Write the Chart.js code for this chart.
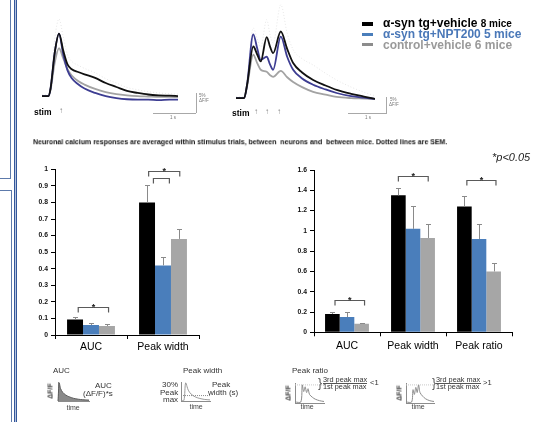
<!DOCTYPE html>
<html>
<head>
<meta charset="utf-8">
<script src="https://cdn.jsdelivr.net/npm/chart.js@4.4.1/dist/chart.umd.min.js"></script>
<style>
html, body { margin: 0; padding: 0; background: #fff; }
#page { position: relative; width: 535px; height: 422px; overflow: hidden; background: #fff;
        font-family: "Liberation Sans", Arial, sans-serif; }
#page canvas { position: absolute; }
.t { position: absolute; white-space: nowrap; line-height: 1; will-change: transform; }
.ln { position: absolute; }
</style>
</head>
<body>
<div id="page">
  <canvas id="trace1" width="136" height="87" style="left:42px;top:17px"></canvas>
  <canvas id="trace2" width="139" height="106" style="left:236px;top:0px"></canvas>
  <canvas id="bars1" width="185" height="200" style="left:20px;top:160px"></canvas>
  <canvas id="bars2" width="245" height="200" style="left:280px;top:160px"></canvas>
  <canvas id="mini1" width="33" height="20" style="left:57px;top:382px"></canvas>
  <canvas id="mini2" width="31" height="20" style="left:180px;top:382px"></canvas>
  <canvas id="mini3" width="31" height="22" style="left:294px;top:382px"></canvas>
  <canvas id="mini4" width="30" height="22" style="left:405px;top:382px"></canvas>
</div>
<script>
// ---- calcium traces (% dF/F against seconds) ----
const t1Time  = [0, 0.15, 0.2, 0.3, 0.4, 0.5, 0.6, 0.7, 0.85, 1.0, 1.25, 1.5, 1.75, 2.0, 2.25, 2.5, 2.75, 3.0, 3.2];
const t1TgVeh = [0, 0, 1.8, 11, 15.8, 11.5, 8, 6.8, 6.1, 5.5, 4.6, 3.3, 2.3, 1.3, 0.8, 0.4, 0.2, 0.1, 0];
const t1TgNpt = [0, 0, 1.8, 11, 15.8, 10.5, 6.5, 4.5, 3.0, 1.9, 0.8, 0.0, -0.5, -0.8, -0.9, -0.9, -1.0, -0.9, -0.9];
const t1Ctrl  = [0, 0, 1.5, 8.5, 12.1, 9.5, 6.8, 5.2, 3.8, 2.9, 1.8, 1.0, 0.5, 0.2, 0.0, -0.1, -0.2, -0.2, -0.25];
const t1Sem   = [0.3, 0.3, 3, 14.5, 19.5, 15, 10.5, 8.8, 7.8, 7.0, 5.9, 4.4, 3.3, 2.2, 1.6, 1.1, 0.8, 0.6, 0.5];

const t2Time  = [0, 0.19, 0.26, 0.405, 0.5, 0.58, 0.72, 0.8, 0.87, 1.05, 1.2, 1.34, 1.55, 1.81, 2.1, 2.36, 2.7, 3.0, 3.26];
const t2TgVeh = [0, 0, 3.4, 13.1, 11, 9.3, 15.5, 13, 11.4, 16.9, 12.5, 8.9, 6.5, 4.6, 3.2, 2.1, 1.1, 0.4, -0.2];
const t2TgNpt = [0, 0, 3.4, 16.2, 12.5, 9.7, 10.5, 8.5, 7.2, 15.6, 10.5, 7.2, 5.0, 3.4, 2.2, 1.3, 0.5, 0.1, -0.2];
const t2Ctrl  = [0, 0, 3, 11, 8.8, 7.2, 6.7, 5.8, 5.4, 6.9, 5.3, 4.1, 2.8, 1.6, 0.9, 0.3, 0, -0.1, -0.2];
const t2Sem   = [0.3, 0.3, 5, 17.8, 15, 13, 19.9, 16, 14, 23.7, 16.5, 12.3, 10, 8.4, 6.3, 4.6, 2.8, 1.5, 0.6];

// ---- bar charts ----
const cats1 = ['AUC', 'Peak width'];
const tgVeh1 = [0.093, 0.80];
const tgNpt1 = [0.060, 0.42];
const ctrl1  = [0.054, 0.58];
const tgVehErr1 = [0.014, 0.105];
const tgNptErr1 = [0.014, 0.049];
const ctrlErr1  = [0.011, 0.058];
const ticks1 = { max: 1, step: 0.1 };
// [category, from series, to series, height, mark]
const sig1 = [[0, 0.2, 2.1, 0.169, '*'], [1, 0.1, 2.05, 0.99, '*'], [1, 0.4, 1.4, 0.946, '']];

const cats2 = ['AUC', 'Peak width', 'Peak ratio'];
const tgVeh2 = [0.18, 1.35, 1.24];
const tgNpt2 = [0.15, 1.02, 0.92];
const ctrl2  = [0.085, 0.93, 0.60];
const tgVehErr2 = [0.023, 0.07, 0.10];
const tgNptErr2 = [0.047, 0.23, 0.145];
const ctrlErr2  = [0.007, 0.135, 0.08];
const ticks2 = { max: 1.6, step: 0.2 };
const sig2 = [[0, 0.18, 2.2, 0.318, '*'], [1, 0.0, 2.04, 1.544, '*'], [2, 0.17, 2.16, 1.50, '*']];

// ---- schematic curves ----
const aucT = [0, 0.4, 0.8, 1.5, 2.5, 3.5, 5, 6.5, 8, 10];
const aucY = [0, 1, 0.7, 0.48, 0.33, 0.24, 0.15, 0.1, 0.07, 0.05];
const pwT = [0, 1, 1.6, 2.5, 3.5, 5, 6.5, 8, 10];
const pwY = [0.03, 0.03, 1, 0.6, 0.38, 0.22, 0.14, 0.09, 0.06];
const pwLevel = 0.3;
const prT = [0, 4, 5, 6, 7, 8, 9, 10, 12, 14, 17, 20];
const prLow  = [0.05, 0.05, 0.95, 0.6, 0.85, 0.55, 0.75, 0.45, 0.3, 0.2, 0.12, 0.08];
const prHigh = [0.05, 0.05, 0.7, 0.45, 0.82, 0.55, 0.95, 0.55, 0.35, 0.22, 0.12, 0.08];

const BLACK = '#000000', BLUE = '#4a7ebb', GRAY = '#a6a6a6';

Chart.defaults.animation = false;
Chart.defaults.font.family = '"Liberation Sans", Arial, sans-serif';
Chart.defaults.plugins.legend.display = false;
Chart.defaults.plugins.tooltip.enabled = false;

const page = document.getElementById('page');

function traceChart(id, time, veh, npt, ctrl, sem, xMax, yMax) {
    const mk = (d, color, w, dash) => ({
        data: time.map((t, i) => ({ x: t, y: d[i] })),
        borderColor: color, borderWidth: w, borderDash: dash || [],
        pointRadius: 0, cubicInterpolationMode: 'monotone', clip: false
    });
    new Chart(document.getElementById(id), {
        type: 'line',
        data: { datasets: [
            mk(veh, '#111', 1.8),
            mk(npt, '#3d3d92', 1.8),
            mk(ctrl, '#a3a3a3', 1.8),
            mk(sem, 'rgba(170,170,170,0.28)', 1, [1, 2])
        ] },
        options: {
            responsive: false,
            layout: { padding: 0 },
            scales: {
                x: { type: 'linear', display: false, min: 0, max: xMax },
                y: { display: false, min: -2, max: yMax }
            }
        }
    });
}

traceChart('trace1', t1Time, t1TgVeh, t1TgNpt, t1Ctrl, t1Sem, 3.2, 20);
traceChart('trace2', t2Time, t2TgVeh, t2TgNpt, t2Ctrl, t2Sem, 3.26, 24.9);

const barExtras = {
    id: 'barExtras',
    afterDatasetsDraw(chart, args, opts) {
        const ctx = chart.ctx, y = chart.scales.y;
        ctx.save();
        ctx.strokeStyle = '#8a8a8a';
        ctx.lineWidth = 1;
        opts.errors.forEach((errs, di) => {
            const vals = chart.data.datasets[di].data;
            chart.getDatasetMeta(di).data.forEach((bar, i) => {
                const top = Math.round(y.getPixelForValue(vals[i] + errs[i])) + 0.5;
                const x = Math.round(bar.x) + 0.5;
                ctx.beginPath();
                ctx.moveTo(x, bar.y);
                ctx.lineTo(x, top);
                ctx.moveTo(x - 2.5, top);
                ctx.lineTo(x + 2.5, top);
                ctx.stroke();
            });
        });
        ctx.strokeStyle = '#5a5a5a';
        ctx.lineWidth = 1.2;
        ctx.fillStyle = '#222';
        ctx.font = 'bold 9px "Liberation Sans", Arial';
        ctx.textAlign = 'center';
        ctx.textBaseline = 'alphabetic';
        opts.brackets.forEach(([cat, from, to, h, mark]) => {
            const xs = [0, 1, 2].map(di => chart.getDatasetMeta(di).data[cat].x);
            const at = f => { const i = Math.min(Math.floor(f), 1); return xs[i] + (f - i) * (xs[i + 1] - xs[i]); };
            const x0 = at(from), x1 = at(to);
            const yy = Math.round(y.getPixelForValue(h)) + 0.5;
            ctx.beginPath();
            ctx.moveTo(x0, yy + 5);
            ctx.lineTo(x0, yy);
            ctx.lineTo(x1, yy);
            ctx.lineTo(x1, yy + 5);
            ctx.stroke();
            if (mark) ctx.fillText(mark, (x0 + x1) / 2, yy + 2);
        });
        ctx.restore();
    }
};

function barChart(id, cats, sets, errs, ticks, sig, yWidth, xHeight, pad, labelPad) {
    new Chart(document.getElementById(id), {
        type: 'bar',
        data: {
            labels: cats,
            datasets: [
                { label: 'α-syn tg+vehicle', data: sets[0], backgroundColor: BLACK },
                { label: 'α-syn tg+NPT200', data: sets[1], backgroundColor: BLUE },
                { label: 'control+vehicle', data: sets[2], backgroundColor: GRAY }
            ]
        },
        options: {
            responsive: false,
            categoryPercentage: 0.665,
            barPercentage: 1.0,
            layout: { padding: pad },
            plugins: { barExtras: { errors: errs, brackets: sig } },
            scales: {
                x: {
                    grid: { drawOnChartArea: false, drawTicks: true, tickLength: 4, color: '#000', offset: true },
                    border: { color: '#000', width: 1 },
                    ticks: { color: '#000', font: { size: 10.5 }, padding: labelPad, maxRotation: 0 },
                    afterFit: s => { s.height = xHeight; }
                },
                y: {
                    min: 0, max: ticks.max,
                    grid: { drawOnChartArea: false, drawTicks: true, tickLength: 4, color: '#000' },
                    border: { color: '#000', width: 1 },
                    ticks: { stepSize: ticks.step, color: '#111', padding: 3, font: { size: 6.8, weight: 'bold' },
                             callback: v => String(Math.round(v * 100) / 100) },
                    afterFit: s => { s.width = yWidth; }
                }
            }
        },
        plugins: [barExtras]
    });
}

barChart('bars1', cats1, [tgVeh1, tgNpt1, ctrl1], [tgVehErr1, tgNptErr1, ctrlErr1], ticks1, sig1,
    35, 25, { top: 9.3, right: 6, left: 0, bottom: 0 }, 1.5);
barChart('bars2', cats2, [tgVeh2, tgNpt2, ctrl2], [tgVehErr2, tgNptErr2, ctrlErr2], ticks2, sig2,
    34, 27.7, { top: 10, right: 13, left: 0, bottom: 0 }, 3.4);

function miniChart(id, series, pad) {
    new Chart(document.getElementById(id), {
        type: 'line',
        data: { datasets: series },
        options: {
            responsive: false,
            layout: { padding: pad },
            scales: {
                x: { type: 'linear', min: series[0].data[0].x, max: series[0].data[series[0].data.length - 1].x,
                     ticks: { display: false }, grid: { display: false, drawTicks: false },
                     border: { color: '#8c8c8c', width: 1 } },
                y: { min: 0, max: 1.05,
                     ticks: { display: false }, grid: { display: false, drawTicks: false },
                     border: { color: '#8c8c8c', width: 1 } }
            }
        }
    });
}
const pts = (xs, ys) => xs.map((x, i) => ({ x: x, y: ys[i] }));
const flat = (xs, v) => [{ x: xs[0], y: v }, { x: xs[xs.length - 1], y: v }];
const curve = (d, color, extra) => Object.assign({ data: d, borderColor: color, borderWidth: 1, pointRadius: 0, tension: 0.3, clip: false }, extra || {});

miniChart('mini1', [curve(pts(aucT, aucY), '#5c5c5c', { fill: 'origin', backgroundColor: '#8a8a8a' })],
    { left: 1, bottom: 1, top: 0, right: 1 });
miniChart('mini2', [curve(pts(pwT, pwY), '#9a9a9a'),
                    curve(flat(pwT, pwLevel), '#8a8a8a', { borderDash: [1, 1], tension: 0 })],
    { left: 1, bottom: 1, top: 0, right: 1 });
miniChart('mini3', [curve(pts(prT, prLow), '#8a8a8a'),
                    curve(flat(prT, 0.95), '#c8c8c8', { borderDash: [1, 1], tension: 0 })],
    { left: 1, bottom: 1, top: 1, right: 1 });
miniChart('mini4', [curve(pts(prT, prHigh), '#8a8a8a'),
                    curve(flat(prT, 0.95), '#c8c8c8', { borderDash: [1, 1], tension: 0 })],
    { left: 1, bottom: 1, top: 1, right: 1 });

// ---- text and rules around the charts ----
function addText(html, x, y, o) {
    o = o || {};
    const d = document.createElement('div');
    d.className = 't';
    d.innerHTML = html;
    d.style.left = x + 'px';
    d.style.top = y + 'px';
    d.style.fontSize = (o.size || 8) + 'px';
    d.style.fontWeight = o.bold ? 'bold' : 'normal';
    if (o.italic) d.style.fontStyle = 'italic';
    d.style.color = o.color || '#000';
    page.appendChild(d);
    const w = d.offsetWidth;
    if (o.rotate) {
        d.style.transform = 'translate(-50%, -50%) rotate(-90deg)';
    } else if (o.fit) {
        d.style.transformOrigin = '0 50%';
        d.style.transform = 'translate(0, -50%) scaleX(' + (o.fit / w) + ')';
    } else {
        const tx = o.align === 'right' ? -w : o.align === 'center' ? -w / 2 : 0;
        d.style.transform = 'translate(' + tx + 'px, -50%)';
    }
}
function addRule(x, y, w, h, color) {
    const d = document.createElement('div');
    d.className = 'ln';
    d.style.cssText = 'left:' + x + 'px;top:' + y + 'px;width:' + w + 'px;height:' + h + 'px;background:' + color;
    page.appendChild(d);
}

// frame lines on the left
addRule(9.5, 0, 1.5, 178, '#5d7aab');
addRule(0, 177.5, 11, 1.5, '#5d7aab');
addRule(0, 189.5, 12, 1.5, '#5d7aab');
addRule(10.5, 190, 1.5, 232, '#5d7aab');
addRule(13.5, 0, 3, 422, '#b3c3de');
addRule(13.5, 0, 1, 422, '#33569a');
addRule(15.8, 0, 1, 422, '#33569a');

// legend
addRule(362, 22, 11, 3.5, BLACK);
addRule(362, 32.5, 11, 3.5, BLUE);
addRule(362, 42.5, 11, 3.5, '#8c8c8c');
addText('α-syn tg+vehicle <span style="font-size:10px">8 mice</span>', 383, 23, { size: 12, bold: true });
addText('α-syn tg+NPT200 5 mice', 383, 34, { size: 12, bold: true, color: '#4a78b8' });
addText('control+vehicle 6 mice', 383, 44.5, { size: 12, bold: true, color: '#9a9a9a' });

// stimulus marks and scale bars
addText('stim', 34, 112, { size: 8.5, bold: true });
addText('↑', 61, 111, { size: 8, color: '#888', align: 'center' });
addText('stim', 232, 113, { size: 8.5, bold: true });
addText('↑', 256, 112, { size: 8, color: '#888', align: 'center' });
addText('↑', 267.3, 112, { size: 8, color: '#888', align: 'center' });
addText('↑', 278.7, 112, { size: 8, color: '#888', align: 'center' });

addRule(195.5, 93, 1, 20, '#a8a8a8');
addRule(153, 112.5, 43, 1, '#a8a8a8');
addText('5%', 199, 96, { size: 4.5, color: '#777' });
addText('ΔF/F', 198.5, 101, { size: 4.5, color: '#777' });
addText('1 s', 173, 117.5, { size: 4.5, color: '#777', align: 'center' });
addRule(386, 97, 1, 16, '#a8a8a8');
addRule(348, 112.5, 39, 1, '#a8a8a8');
addText('5%', 390, 100, { size: 4.5, color: '#777' });
addText('ΔF/F', 389, 104.5, { size: 4.5, color: '#777' });
addText('1 s', 368, 117.5, { size: 4.5, color: '#777', align: 'center' });

// caption and significance note
addText('Neuronal calcium responses are averaged within stimulus trials, between&nbsp; neurons and&nbsp; between mice. Dotted lines are SEM.',
    33, 141.7, { size: 7.6, bold: true, color: '#111', fit: 414 });
addText('*p&lt;0.05', 491.5, 156.7, { size: 11, italic: true, color: '#222' });

// schematic labels
addText('AUC', 53, 371.4, { size: 8, color: '#333' });
addText('Peak width', 183, 371.4, { size: 8, color: '#333' });
addText('Peak ratio', 292, 371, { size: 8, color: '#333' });

addText('ΔF/F', 49.5, 391, { size: 7, bold: true, color: '#444', rotate: true });
addText('time', 73, 406.5, { size: 7, color: '#444', align: 'center' });
addText('AUC', 112, 386, { size: 8, color: '#333', align: 'right' });
addText('(ΔF/F)*s', 112.6, 394, { size: 8, color: '#333', align: 'right' });

addText('30%', 177.5, 385, { size: 8, color: '#333', align: 'right' });
addText('Peak', 177.5, 392.5, { size: 8, color: '#333', align: 'right' });
addText('max', 177.5, 399.5, { size: 8, color: '#333', align: 'right' });
addText('Peak', 211.6, 385, { size: 8, color: '#333' });
addText('width (s)', 208, 392.5, { size: 8, color: '#333' });
addText('time', 196, 406, { size: 7, color: '#444', align: 'center' });

addText('ΔF/F', 288.4, 393, { size: 7, bold: true, color: '#444', rotate: true });
addText('time', 307, 405.5, { size: 7, color: '#444', align: 'center' });
addText('}', 317.5, 383, { size: 12, color: '#555' });
addText('3rd peak max', 322.5, 379.5, { size: 7.3, color: '#333' });
addRule(322.5, 383, 44.5, 0.8, '#555');
addText('1st peak max', 322.5, 386.7, { size: 7.3, color: '#333' });
addText('&lt;1', 369.5, 383, { size: 7.6, color: '#333' });

addText('ΔF/F', 399.3, 393, { size: 7, bold: true, color: '#444', rotate: true });
addText('time', 418, 405.5, { size: 7, color: '#444', align: 'center' });
addText('}', 431.5, 383, { size: 12, color: '#555' });
addText('3rd peak max', 436, 379.5, { size: 7.3, color: '#333' });
addRule(436, 383, 44.5, 0.8, '#555');
addText('1st peak max', 436, 386.7, { size: 7.3, color: '#333' });
addText('&gt;1', 482.5, 383, { size: 7.6, color: '#333' });
</script>
</body>
</html>
